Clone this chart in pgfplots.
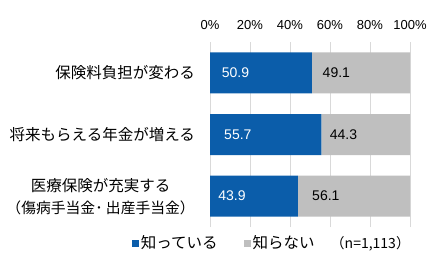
\documentclass[border=0pt]{standalone}
\usepackage{pgfplots}
\usepackage{pgfplotstable}
\pgfplotsset{compat=1.18}
\usepackage{fontspec}
\setmainfont{Liberation Sans}
\newfontfamily\jp{Noto Sans CJK JP}
\definecolor{knowblue}{HTML}{0B5DAA}
\definecolor{notgray}{HTML}{BFBFBF}
\definecolor{gridgray}{HTML}{D9D9D9}
\pgfplotstableread{
pos know notknow
2 50.9 49.1
1 55.7 44.3
0 43.9 56.1
}\datatable
\begin{document}
\begin{tikzpicture}
\useasboundingbox (0,0) rectangle (435pt,268pt);
\begin{axis}[
  at={(210pt,41pt)}, anchor=south west,
  scale only axis, width=200pt, height=185pt,
  /pgf/number format/assume math mode=true,
  xbar stacked, bar width=41pt,
  xmin=0, xmax=100, ymin=-0.5, ymax=2.5,
  xtick={0,20,...,100},
  xticklabel={\pgfmathprintnumber{\tick}\%},
  xticklabel pos=right,
  xticklabel style={inner sep=0pt, yshift=12pt, font=\fontsize{13}{15}\selectfont},
  ytick={0,1,2},
  yticklabels={{\fontsize{15.5}{22}\selectfont 医療保険が充実する\\\fontsize{14.8}{22}\selectfont（傷病手当金･ 出産手当金）},{将来もらえる年金が増える},{保険料負担が変わる}},
  yticklabel style={inner sep=0pt, xshift=-15pt, align=center, font=\jp\fontsize{15.5}{22}\selectfont},
  major tick length=0pt,
  axis line style={draw=none},
  xmajorgrids, grid style={gridgray, line width=0.9pt},
  legend style={draw=none, fill=none, at={(0.31,-0.0865)}, anchor=center,
    font=\jp\fontsize{15.5}{17}\selectfont, legend columns=3,
    /tikz/every even column/.append style={column sep=24pt},
    legend cell align=left},
  point meta=explicit,
  nodes near coords={\pgfmathprintnumber[fixed,precision=1,zerofill]{\pgfplotspointmeta}},
  every node near coord/.append style={font=\fontsize{14}{16}\selectfont, anchor=center},
]
\addplot[fill=knowblue, draw=none,
  visualization depends on={\thisrow{know} \as \val},
  every node near coord/.append style={white, xshift=-0.5*\val pt},
  legend image code/.code={\fill[knowblue] (0pt,-3.5pt) rectangle (7pt,3.5pt);}]
  table[x=know, y=pos, meta=know] {\datatable};
\addlegendentry{知っている}
\addplot[fill=notgray, draw=none,
  visualization depends on={\thisrow{notknow} \as \val},
  every node near coord/.append style={black, xshift=-0.5*\val pt},
  legend image code/.code={\fill[notgray] (0pt,-3.5pt) rectangle (7pt,3.5pt);}]
  table[x=notknow, y=pos, meta=notknow] {\datatable};
\addlegendentry{知らない}
\addlegendimage{empty legend}
\addlegendentry{\hspace{-12pt}\fontsize{14}{17}\selectfont（n=1,113）}
\end{axis}
\end{tikzpicture}
\end{document}
